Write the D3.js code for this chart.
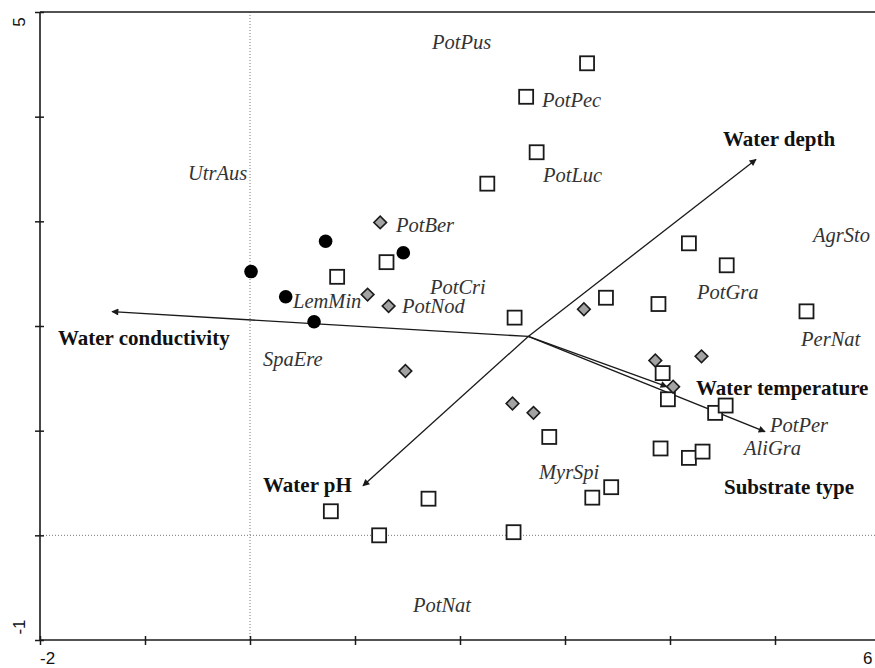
<!DOCTYPE html>
<html>
<head>
<meta charset="utf-8">
<script src="https://cdn.jsdelivr.net/npm/d3@7"></script>
<style>
  html, body { margin: 0; padding: 0; background: #fff; overflow: hidden; }
  svg { display: block; }
</style>
</head>
<body>
<svg id="chart" width="875" height="668"></svg>
<script>
// ---- data ----
const xDomain = [-2, 6];
const yDomain = [-1, 5];
const xTickLabels = ["-2", "6"];
const yTickLabels = ["5", "-1"];

// sample scores: open squares
const squareX = [3.21, 2.63, 2.73, 2.26, 0.83, 1.30, 4.18, 4.54, 3.39, 3.89, 2.52, 5.30, 3.93, 3.98, 4.43, 4.53, 2.85, 3.91, 4.18, 4.31, 3.44, 3.26, 1.70, 0.77, 1.23, 2.51];
const squareY = [4.51, 4.19, 3.66, 3.36, 2.47, 2.61, 2.79, 2.58, 2.27, 2.21, 2.08, 2.14, 1.55, 1.30, 1.17, 1.24, 0.94, 0.83, 0.74, 0.80, 0.46, 0.36, 0.35, 0.23, 0.00, 0.03];
// grey diamonds
const diamondX = [1.24, 1.12, 1.32, 1.48, 3.18, 3.86, 4.30, 4.03, 2.50, 2.70];
const diamondY = [2.99, 2.30, 2.19, 1.57, 2.16, 1.67, 1.71, 1.42, 1.26, 1.17];
// black circles
const circleX = [0.01, 0.72, 1.46, 0.34, 0.61];
const circleY = [2.52, 2.81, 2.70, 2.28, 2.04];

// species labels
const speciesNames = ["PotPus", "PotPec", "PotLuc", "UtrAus", "PotBer", "LemMin", "PotCri", "PotNod", "SpaEre", "AgrSto", "PotGra", "PerNat", "PotPer", "AliGra", "MyrSpi", "PotNat"];
const speciesX = [1.733, 2.781, 2.790, -0.590, 1.390, 0.410, 1.714, 1.448, 0.124, 5.362, 4.257, 5.248, 4.952, 4.705, 2.752, 1.552];
const speciesY = [4.643, 4.088, 3.380, 3.399, 2.902, 2.175, 2.308, 2.127, 1.621, 2.806, 2.261, 1.812, 0.990, 0.770, 0.540, -0.732];

// environmental variables
const envOrigin = [2.65, 1.90];
const envNames = ["Water depth", "Water conductivity", "Water temperature", "Substrate type", "Water pH"];
const envTipX = [4.819, -1.314, 3.971, 4.905, 1.076];
const envTipY = [3.591, 2.137, 1.420, 0.990, 0.473];
const envLabelX = [4.505, -1.829, 4.248, 4.514, 0.124];
const envLabelY = [3.716, 1.822, 1.343, 0.396, 0.415];

// ---- layout ----
const svg = d3.select("#chart");
const pLeft = 40, pRight = 880, pTop = 12, pBottom = 640;
const x = d3.scaleLinear().domain(xDomain).range([pLeft, pRight]);
const y = d3.scaleLinear().domain(yDomain).range([pBottom, pTop]);

const ink = "#1a1a1a";

// dotted zero lines
svg.append("line")
  .attr("x1", x(0)).attr("x2", x(0)).attr("y1", pTop).attr("y2", pBottom)
  .attr("stroke", "#777").attr("stroke-width", 1).attr("stroke-dasharray", "1,2");
svg.append("line")
  .attr("x1", pLeft).attr("x2", pRight).attr("y1", y(0)).attr("y2", y(0))
  .attr("stroke", "#777").attr("stroke-width", 1).attr("stroke-dasharray", "1,2");

// axes
const xAxis = d3.axisBottom(x).tickValues(d3.range(-2, 7)).tickSize(4).tickFormat("");
const gx = svg.append("g").attr("transform", `translate(0,${pBottom})`).call(xAxis);
gx.select(".domain").remove();
gx.selectAll(".tick line").attr("y1", -4).attr("y2", 5).attr("stroke", ink).attr("stroke-width", 1.5);
svg.append("line").attr("x1", pLeft).attr("x2", 875).attr("y1", pBottom).attr("y2", pBottom)
  .attr("stroke", ink).attr("stroke-width", 1.6);

const yAxis = d3.axisLeft(y).tickValues(d3.range(-1, 6)).tickSize(4).tickFormat("");
const gy = svg.append("g").attr("transform", `translate(${pLeft},0)`).call(yAxis);
gy.select(".domain").remove();
gy.selectAll(".tick line").attr("x1", -5).attr("x2", 4).attr("stroke", ink).attr("stroke-width", 1.5);
svg.append("line").attr("x1", pLeft).attr("x2", pLeft).attr("y1", pTop).attr("y2", pBottom)
  .attr("stroke", ink).attr("stroke-width", 1.6);
svg.append("line").attr("x1", pLeft).attr("x2", 875).attr("y1", pTop).attr("y2", pTop)
  .attr("stroke", ink).attr("stroke-width", 1.6);

// tick labels
const tickFont = "'Liberation Sans', Arial, sans-serif";
svg.append("text").attr("x", x(-2)).attr("y", 664).attr("font-family", tickFont).attr("font-size", 17)
  .attr("fill", "#111").text(xTickLabels[0]);
svg.append("text").attr("x", 863).attr("y", 664).attr("font-family", tickFont).attr("font-size", 17)
  .attr("fill", "#111").text(xTickLabels[1]);
svg.append("text").attr("transform", `translate(25,${y(5) + 10}) rotate(-90)`).attr("text-anchor", "middle")
  .attr("font-family", tickFont).attr("font-size", 17).attr("fill", "#111").text(yTickLabels[0]);
svg.append("text").attr("transform", `translate(25,${y(-1) - 13}) rotate(-90)`).attr("text-anchor", "middle")
  .attr("font-family", tickFont).attr("font-size", 17).attr("fill", "#111").text(yTickLabels[1]);

// arrow marker
svg.append("defs").append("marker")
  .attr("id", "arrow").attr("viewBox", "0 0 10 10").attr("refX", 9).attr("refY", 5)
  .attr("markerWidth", 9).attr("markerHeight", 7).attr("markerUnits", "userSpaceOnUse")
  .attr("orient", "auto")
  .append("path").attr("d", "M0,0 L10,5 L0,10 z").attr("fill", ink);

// env arrows
envNames.forEach((n, i) => {
  svg.append("line")
    .attr("x1", x(envOrigin[0])).attr("y1", y(envOrigin[1]))
    .attr("x2", x(envTipX[i])).attr("y2", y(envTipY[i]))
    .attr("stroke", ink).attr("stroke-width", 1.3)
    .attr("marker-end", "url(#arrow)");
});

// squares
const sq = 14;
svg.append("g").selectAll("rect").data(squareX).join("rect")
  .attr("x", (d) => x(d) - sq / 2)
  .attr("y", (d, i) => y(squareY[i]) - sq / 2)
  .attr("width", sq).attr("height", sq)
  .attr("fill", "#fff").attr("stroke", ink).attr("stroke-width", 1.8);

// diamonds
const diamond = d3.symbol().type(d3.symbolSquare).size(80);
svg.append("g").selectAll("path").data(diamondX).join("path")
  .attr("d", diamond)
  .attr("transform", (d, i) => `translate(${x(d)},${y(diamondY[i])}) rotate(45)`)
  .attr("fill", "#a3a3a3").attr("stroke", ink).attr("stroke-width", 1.6);

// circles
svg.append("g").selectAll("circle").data(circleX).join("circle")
  .attr("cx", (d) => x(d)).attr("cy", (d, i) => y(circleY[i])).attr("r", 6.8)
  .attr("fill", "#000");

// species labels
const serif = "'Liberation Serif', 'Times New Roman', serif";
svg.append("g").selectAll("text").data(speciesNames).join("text")
  .attr("x", (d, i) => x(speciesX[i])).attr("y", (d, i) => y(speciesY[i]))
  .attr("font-family", serif).attr("font-style", "italic").attr("font-size", 20.5)
  .attr("fill", "#333").text((d) => d);

// env labels
svg.append("g").selectAll("text").data(envNames).join("text")
  .attr("x", (d, i) => x(envLabelX[i])).attr("y", (d, i) => y(envLabelY[i]))
  .attr("font-family", serif).attr("font-weight", "bold").attr("font-size", 21)
  .attr("fill", "#111").text((d) => d);
</script>
</body>
</html>
